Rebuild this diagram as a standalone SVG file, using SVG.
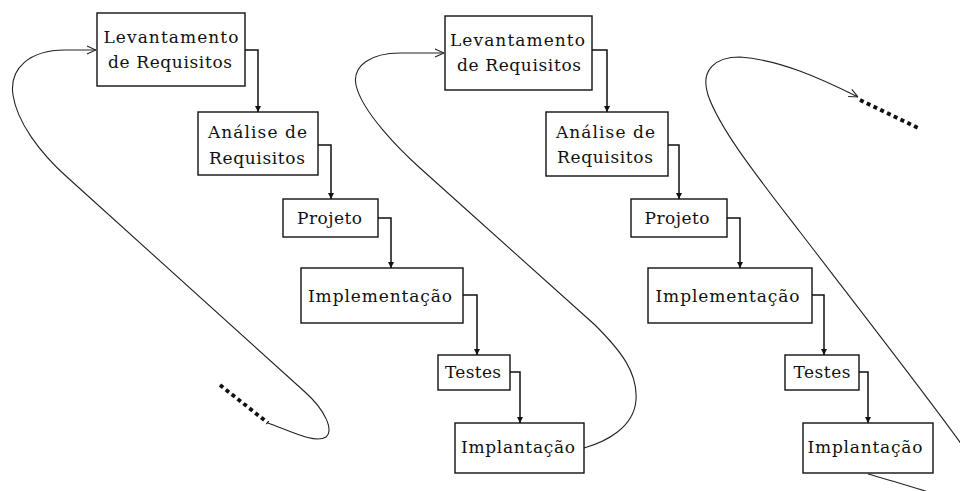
<svg xmlns="http://www.w3.org/2000/svg" width="960" height="491" viewBox="0 0 960 491">
<style>
.box{fill:#fff;stroke:#111;stroke-width:1.4}
.lbl{font-family:"DejaVu Serif","Liberation Serif",serif;font-size:17px;fill:#111;text-anchor:middle}
.conn{fill:none;stroke:#111;stroke-width:1.5;marker-end:url(#tri)}
.loop{fill:none;stroke:#222;stroke-width:1.1}
.dots{fill:none;stroke:#111;stroke-width:3.8;stroke-dasharray:4 3.5}
</style>
<defs>
<marker id="tri" viewBox="0 0 6 6" refX="6" refY="3" markerWidth="6" markerHeight="6" markerUnits="userSpaceOnUse" orient="auto">
<path d="M0,0 L6,3 L0,6 z" fill="#111"/>
</marker>
<marker id="chev" viewBox="0 0 10 10" refX="10" refY="5" markerWidth="10" markerHeight="10" markerUnits="userSpaceOnUse" orient="auto">
<path d="M1,1 L10,5 L1,9" fill="none" stroke="#222" stroke-width="1.1"/>
</marker>
</defs>
<rect width="960" height="491" fill="#fff"/>

<g id="connectors">
<path class="conn" d="M245 50 H258 V112"/>
<path class="conn" d="M318 145 H331 V199"/>
<path class="conn" d="M378 218 H391 V268"/>
<path class="conn" d="M463 295 H477 V355"/>
<path class="conn" d="M510 372 H520 V423"/>
<path class="conn" d="M592 50 H607 V112"/>
<path class="conn" d="M668 145 H679 V199"/>
<path class="conn" d="M727 218 H740 V268"/>
<path class="conn" d="M812 295 H824 V355"/>
<path class="conn" d="M859 372 H868 V423"/>
<path class="loop" marker-end="url(#chev)" d="M268 423 C292 432 316 444 326 437 C334 430 325 410 305 392 L67 177 C40 153 17 122 13 95 C9 68 30 50 65 50 L96 50"/>
<path class="dots" d="M220 385 L268 423"/>
<path class="loop" marker-end="url(#chev)" d="M584 448 C605 442 634 428 636 400 C638 372 620 350 595 325 L420 168 C400 150 362 112 356 85 C352 65 372 53 400 53 L444 53"/>
<path class="loop" d="M868 474 C890 480 915 488 945 497"/>
<path class="loop" marker-end="url(#chev)" d="M962 445 C930 400 860 310 800 232 C760 180 720 130 708 95 C700 70 715 57 740 57 C780 60 820 78 858 97"/>
<path class="dots" d="M860 100 L918 128"/>
</g>

<g id="levantamento1"><rect class="box" x="97" y="13" width="148" height="73"/>
<text class="lbl" x="171" y="43" textLength="135" lengthAdjust="spacing">Levantamento</text>
<text class="lbl" x="170" y="68" textLength="124" lengthAdjust="spacing">de Requisitos</text></g>
<g id="analise1"><rect class="box" x="198" y="112" width="120" height="63"/>
<text class="lbl" x="257.5" y="138" textLength="99" lengthAdjust="spacing">Análise de</text>
<text class="lbl" x="257" y="164" textLength="96" lengthAdjust="spacing">Requisitos</text></g>
<g id="projeto1"><rect class="box" x="283" y="199" width="95" height="38"/>
<text class="lbl" x="329.5" y="224" textLength="65" lengthAdjust="spacing">Projeto</text></g>
<g id="implementacao1"><rect class="box" x="301" y="268" width="162" height="55"/>
<text class="lbl" x="380" y="302" textLength="144" lengthAdjust="spacing">Implementação</text></g>
<g id="testes1"><rect class="box" x="438" y="355" width="72" height="35"/>
<text class="lbl" x="473" y="378" textLength="56" lengthAdjust="spacing">Testes</text></g>
<g id="implantacao1"><rect class="box" x="455" y="423" width="129" height="50"/>
<text class="lbl" x="518" y="453" textLength="114" lengthAdjust="spacing">Implantação</text></g>

<g id="levantamento2"><rect class="box" x="445" y="16" width="147" height="74"/>
<text class="lbl" x="517.5" y="46" textLength="135" lengthAdjust="spacing">Levantamento</text>
<text class="lbl" x="519" y="71" textLength="124" lengthAdjust="spacing">de Requisitos</text></g>
<g id="analise2"><rect class="box" x="546" y="112" width="122" height="64"/>
<text class="lbl" x="605.5" y="138" textLength="99" lengthAdjust="spacing">Análise de</text>
<text class="lbl" x="605" y="163" textLength="96" lengthAdjust="spacing">Requisitos</text></g>
<g id="projeto2"><rect class="box" x="631" y="199" width="96" height="38"/>
<text class="lbl" x="677" y="224" textLength="65" lengthAdjust="spacing">Projeto</text></g>
<g id="implementacao2"><rect class="box" x="648" y="268" width="164" height="55"/>
<text class="lbl" x="727.5" y="302" textLength="144" lengthAdjust="spacing">Implementação</text></g>
<g id="testes2"><rect class="box" x="785" y="355" width="74" height="35"/>
<text class="lbl" x="822" y="378" textLength="57" lengthAdjust="spacing">Testes</text></g>
<g id="implantacao2"><rect class="box" x="803" y="423" width="130" height="50"/>
<text class="lbl" x="865" y="453" textLength="115" lengthAdjust="spacing">Implantação</text></g>
</svg>
